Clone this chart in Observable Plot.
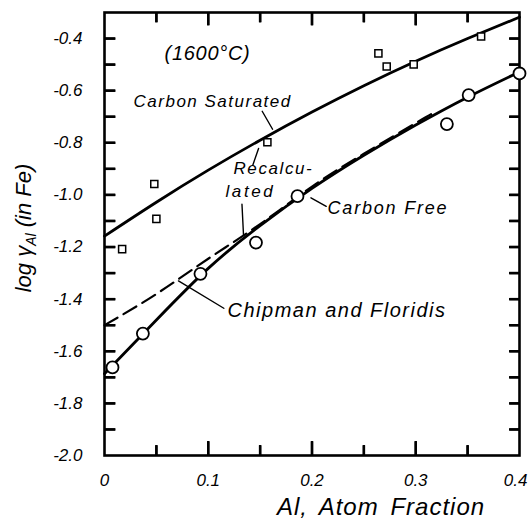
<!DOCTYPE html>
<html><head><meta charset="utf-8">
<script src="https://cdn.jsdelivr.net/npm/d3@7"></script>
<script src="https://cdn.jsdelivr.net/npm/@observablehq/plot@0.6"></script>
<style>body{margin:0;background:#fff}</style>
</head><body><div id="chart"></div>
<script>
// Carbon saturated (squares)
const satPtsX = [0.017, 0.048, 0.05, 0.157, 0.264, 0.272, 0.298, 0.363];
const satPtsY = [-1.208, -0.958, -1.092, -0.798, -0.457, -0.507, -0.499, -0.392];
// Carbon free (circles)
const freePtsX = [0.0077, 0.037, 0.0925, 0.146, 0.186, 0.330, 0.351, 0.4];
const freePtsY = [-1.662, -1.532, -1.303, -1.183, -1.005, -0.728, -0.617, -0.534];
// Fitted curves
const lineX = [0, 0.05, 0.1, 0.15, 0.2, 0.25, 0.3, 0.35, 0.4];
const satLineY = [-1.158, -1.028, -0.905, -0.790, -0.682, -0.581, -0.487, -0.400, -0.318];
const freeLineY = [-1.686, -1.480, -1.282, -1.118, -0.975, -0.848, -0.732, -0.625, -0.528];
// Chipman and Floridis (dashed)
const dashX = [0, 0.05, 0.1, 0.15, 0.2, 0.25, 0.3, 0.315];
const dashY = [-1.50, -1.38, -1.245, -1.112, -0.968, -0.842, -0.724, -0.69];
// Ticks
const xLabels = [0, 0.1, 0.2, 0.3];
const xLastLabel = [0.4];
const xMajorTicks = [0.1, 0.2, 0.3];
const xMinorTicks = [0.05, 0.15, 0.25, 0.35];
const yLabels = [-0.4, -0.6, -0.8, -1.0, -1.2, -1.4, -1.6, -1.8, -2.0];
const yTicks = [-0.4, -0.5, -0.6, -0.7, -0.8, -0.9, -1.0, -1.1, -1.2, -1.3, -1.4, -1.5, -1.6, -1.7, -1.8, -1.9];
// Annotations
const notes = [
  {x: 0.0993, y: -0.457, text: "(1600°C)", size: 20, ls: 0.7, anchor: "middle"},
  {x: 0.028, y: -0.641, text: "Carbon Saturated", size: 17, ls: 1.5, anchor: "start"},
  {x: 0.1243, y: -0.898, text: "Recalcu-", size: 17, ls: 1.6, anchor: "start"},
  {x: 0.1166, y: -0.986, text: "lated", size: 17, ls: 2.6, anchor: "start"},
  {x: 0.215, y: -1.05, text: "Carbon Free", size: 18, ls: 1.8, anchor: "start"},
  {x: 0.1186, y: -1.445, text: "Chipman and Floridis", size: 20, ls: 1.5, anchor: "start"}
];
const arrows = [
  {x1: 0.152, y1: -0.679, x2: 0.162, y2: -0.748, bend: 20},
  {x1: 0.143, y1: -0.885, x2: 0.1485, y2: -0.822, bend: 0},
  {x1: 0.1325, y1: -1.036, x2: 0.134, y2: -1.155, bend: -15},
  {x1: 0.2137, y1: -1.044, x2: 0.199, y2: -1.011, bend: 0},
  {x1: 0.115, y1: -1.435, x2: 0.0713, y2: -1.330, bend: -30}
];

const W = 528, H = 519, mL = 104, mR = 9, mT = 12, mB = 64;
const PW = W - mL - mR, PH = H - mT - mB;
const xDom = [0, 0.4], yDom = [-2.0, -0.3];
// tick lengths expressed in scale units (style constants)
const ypx = (yDom[1] - yDom[0]) / PH, xpx = (xDom[1] - xDom[0]) / PW;
const fmt = v => v === 0 ? "0" : v.toFixed(1);
const sat = satPtsX.map((x, i) => ({x, y: satPtsY[i]}));
const free = freePtsX.map((x, i) => ({x, y: freePtsY[i]}));
const satLine = lineX.map((x, i) => ({x, y: satLineY[i]}));
const freeLine = lineX.map((x, i) => ({x, y: freeLineY[i]}));
const dash = dashX.map((x, i) => ({x, y: dashY[i]}));

const tickSegs = [
  ...xMajorTicks.map(v => ({x1: v, x2: v, y1: yDom[0], y2: yDom[0] + 14 * ypx})),
  ...xMinorTicks.map(v => ({x1: v, x2: v, y1: yDom[0], y2: yDom[0] + 10 * ypx})),
  ...xMajorTicks.map(v => ({x1: v, x2: v, y1: yDom[1], y2: yDom[1] - 13 * ypx})),
  ...xMinorTicks.map(v => ({x1: v, x2: v, y1: yDom[1], y2: yDom[1] - 10 * ypx})),
  ...yTicks.map(v => ({x1: xDom[0], x2: xDom[0] + 11 * xpx, y1: v, y2: v})),
  ...yTicks.map(v => ({x1: xDom[1], x2: xDom[1] - 10 * xpx, y1: v, y2: v}))
];

const textMarks = notes.map(n => Plot.text([n], {x: "x", y: "y", text: "text", fontSize: n.size, textAnchor: n.anchor, fill: "#000", fontStyle: "italic"}));
const tk = {stroke: "#000", strokeWidth: 2.4};

const chart = Plot.plot({
  width: W, height: H,
  marginLeft: mL, marginRight: mR, marginTop: mT, marginBottom: mB,
  x: {domain: xDom},
  y: {domain: yDom},
  style: {fontFamily: "Liberation Sans, sans-serif", fontStyle: "italic"},
  marks: [
    Plot.axisX(xLabels, {tickSize: 0, tickPadding: 18, tickFormat: fmt, fontSize: 17, fontStyle: "italic", label: null}),
    Plot.axisX(xLastLabel, {tickSize: 0, tickPadding: 18, tickFormat: fmt, fontSize: 17, fontStyle: "italic", textAnchor: "end", dx: 8, label: null}),
    Plot.axisY(yLabels, {tickSize: 0, tickPadding: 22, tickFormat: fmt, fontSize: 17, fontStyle: "italic", label: null}),
    Plot.frame({stroke: "#000", strokeWidth: 2.6}),
    // inward ticks
    Plot.tickX(xMajorTicks, {x: v => v, insetTop: PH - 14, ...tk}),
    Plot.tickX(xMinorTicks, {x: v => v, insetTop: PH - 10, ...tk}),
    Plot.tickX(xMajorTicks, {x: v => v, insetBottom: PH - 13, ...tk}),
    Plot.tickX(xMinorTicks, {x: v => v, insetBottom: PH - 10, ...tk}),
    Plot.tickY(yTicks, {y: v => v, insetRight: PW - 11, ...tk}),
    Plot.tickY(yTicks, {y: v => v, insetLeft: PW - 10, ...tk}),
    Plot.arrow(tickSegs, {x1: "x1", y1: "y1", x2: "x2", y2: "y2", headLength: 0, stroke: "#000", strokeWidth: 2.4, strokeLinecap: "butt"}),
    Plot.line(satLine, {x: "x", y: "y", curve: "natural", stroke: "#000", strokeWidth: 2.8}),
    Plot.line(dash, {x: "x", y: "y", curve: "natural", stroke: "#000", strokeWidth: 2.2, strokeDasharray: "15,7"}),
    Plot.line(freeLine, {x: "x", y: "y", curve: "natural", stroke: "#000", strokeWidth: 2.8}),
    Plot.arrow(arrows, {x1: "x1", y1: "y1", x2: "x2", y2: "y2", bend: a => a.bend, stroke: "#000", strokeWidth: 1.4, headLength: 7}),
    Plot.dot(sat, {x: "x", y: "y", symbol: "square", r: 4, fill: "#fff", stroke: "#000", strokeWidth: 1.5}),
    Plot.dot(free, {x: "x", y: "y", r: 6, fill: "#fff", stroke: "#000", strokeWidth: 1.8}),
    ...textMarks
  ]
});
document.getElementById("chart").appendChild(chart);

const svg = d3.select(chart);
// letter spacing for annotations
svg.selectAll("text").each(function() {
  const n = notes.find(a => a.text === this.textContent);
  if (n) d3.select(this).attr("letter-spacing", n.ls);
});

// axis titles
const yl = svg.append("text")
  .attr("transform", `translate(31,228) rotate(-90)`)
  .attr("text-anchor", "middle")
  .attr("font-size", 22).attr("font-style", "italic").attr("fill", "#000");
yl.append("tspan").text("log γ");
yl.append("tspan").attr("font-size", 14).attr("dy", 5).text("Al");
yl.append("tspan").attr("dy", -5).text(" (in Fe)");
svg.append("text")
  .attr("x", 381).attr("y", 515)
  .attr("text-anchor", "middle")
  .attr("font-size", 24).attr("font-style", "italic").attr("fill", "#000")
  .attr("letter-spacing", 1).attr("word-spacing", 4)
  .text("Al, Atom Fraction");
</script>
</body></html>
